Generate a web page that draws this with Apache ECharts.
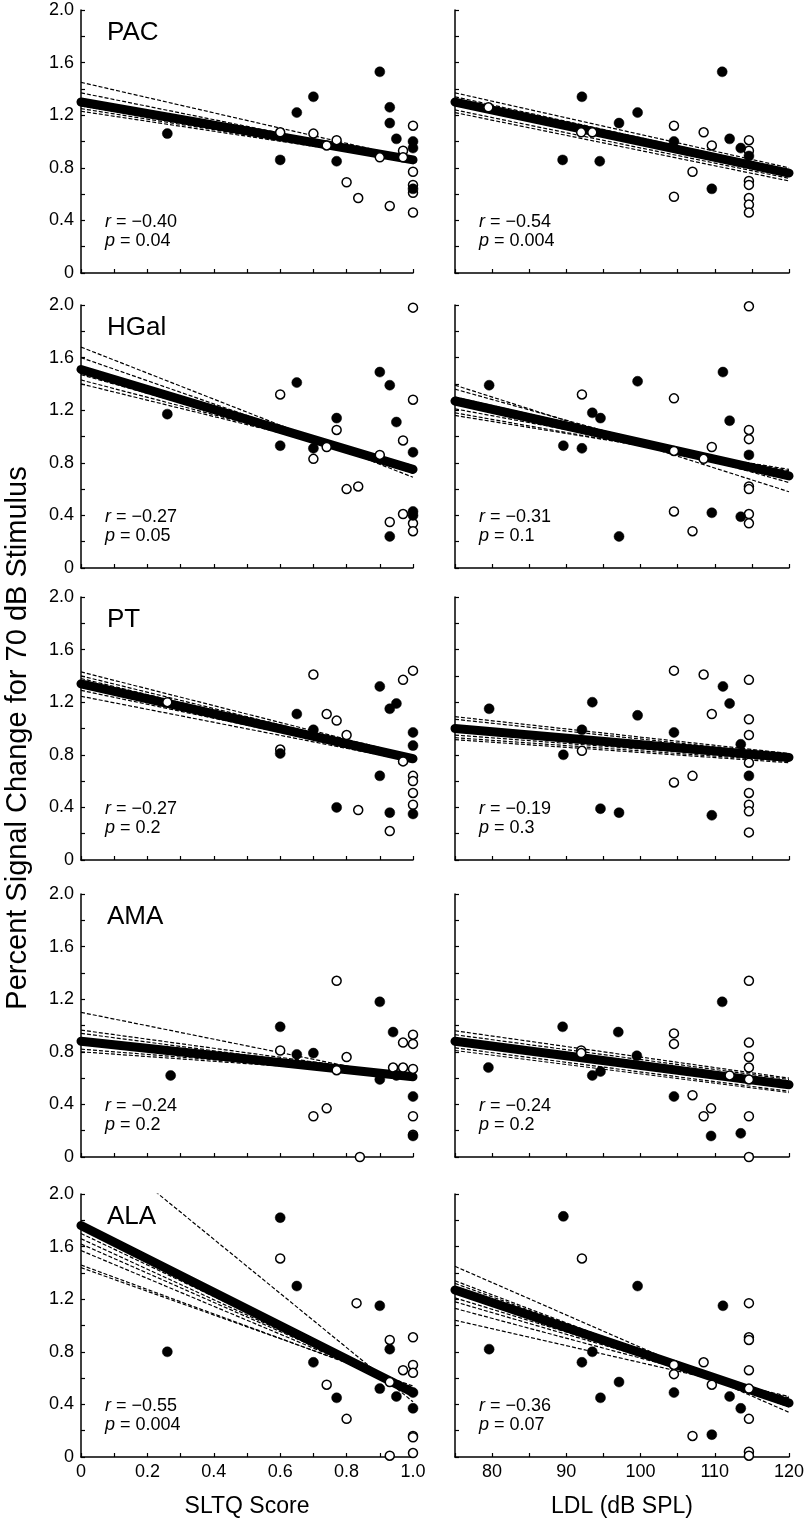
<!DOCTYPE html>
<html><head><meta charset="utf-8">
<script src="https://cdn.jsdelivr.net/npm/echarts@6/dist/echarts.min.js"></script>
<style>html,body{margin:0;padding:0;background:#fff}#c{width:809px;height:1524px}</style>
</head><body><div id="c"></div>
<script>
// ---------------- DATA ----------------
const regions = ['PAC', 'HGal', 'PT', 'AMA', 'ALA'];
const xTitles = ['SLTQ Score', 'LDL (dB SPL)'];
const yTitle = 'Percent Signal Change for 70 dB Stimulus';
const yTickLabels = ['0', '0.4', '0.8', '1.2', '1.6', '2.0'];
const sltqTickLabels = ['0', '0.2', '0.4', '0.6', '0.8', '1.0'];
const ldlTickLabels = ['80', '90', '100', '110', '120'];

// PAC
const PAC_sltq_filled = [[0.26,1.06],[0.60,0.86],[0.65,1.22],[0.70,1.34],[0.77,0.85],[0.90,1.53],[0.93,1.26],[0.93,1.14],[0.95,1.02],[1.0,1.00],[1.0,0.95],[1.0,0.64]];
const PAC_sltq_open = [[0.60,1.07],[0.70,1.06],[0.74,0.97],[0.77,1.01],[0.80,0.69],[0.835,0.57],[0.90,0.88],[0.93,0.51],[0.97,0.93],[0.97,0.88],[1.0,1.12],[1.0,0.77],[1.0,0.67],[1.0,0.61],[1.0,0.46]];
const PAC_sltq_fit = [[0,1.30],[1,0.86]];
const PAC_sltq_resamples = [[[0,1.45],[1,0.87]],[[0,1.37],[1,0.86]],[[0,1.27],[1,0.86]],[[0,1.25],[1,0.85]],[[0,1.23],[1,0.85]]];
const PAC_sltq_stats = ['\u22120.40', '0.04'];

const PAC_ldl_filled = [[89.5,0.86],[92.1,1.34],[94.5,0.85],[97.1,1.14],[99.6,1.22],[104.5,1.00],[109.6,0.64],[111.0,1.53],[112.0,1.02],[113.5,0.95],[114.6,0.89]];
const PAC_ldl_open = [[79.5,1.26],[92.0,1.07],[93.5,1.07],[104.5,1.12],[104.5,0.58],[107.0,0.77],[108.5,1.07],[109.6,0.97],[114.6,1.01],[114.6,0.93],[114.6,0.70],[114.6,0.67],[114.6,0.57],[114.6,0.52],[114.6,0.46]];
const PAC_ldl_fit = [[75,1.30],[120,0.76]];
const PAC_ldl_resamples = [[[75,1.37],[120,0.80]],[[75,1.34],[120,0.78]],[[75,1.24],[120,0.72]],[[75,1.22],[120,0.70]]];
const PAC_ldl_stats = ['\u22120.54', '0.004'];

// HGal
const HGal_sltq_filled = [[0.26,1.17],[0.60,0.93],[0.65,1.41],[0.70,0.91],[0.77,1.14],[0.90,1.49],[0.93,1.39],[0.95,1.11],[0.93,0.24],[1.0,0.88],[1.0,0.43],[1.0,0.40]];
const HGal_sltq_open = [[0.60,1.32],[0.70,0.83],[0.74,0.92],[0.77,1.05],[0.80,0.60],[0.835,0.62],[0.90,0.86],[0.93,0.35],[0.97,0.41],[0.97,0.97],[1.0,1.98],[1.0,1.28],[1.0,0.34],[1.0,0.28]];
const HGal_sltq_fit = [[0,1.51],[1,0.75]];
const HGal_sltq_resamples = [[[0,1.68],[1,0.69]],[[0,1.60],[1,0.72]],[[0,1.47],[1,0.76]],[[0,1.43],[1,0.77]],[[0,1.40],[1,0.78]]];
const HGal_sltq_stats = ['\u22120.27', '0.05'];

const HGal_ldl_filled = [[79.6,1.39],[89.6,0.93],[92.1,0.91],[93.5,1.18],[94.6,1.14],[97.1,0.24],[99.6,1.42],[109.6,0.42],[111.1,1.49],[112.0,1.12],[113.5,0.39],[114.6,0.86]];
const HGal_ldl_open = [[92.1,1.32],[104.5,1.29],[104.5,0.43],[104.5,0.89],[107.0,0.28],[108.5,0.83],[109.6,0.92],[114.6,1.99],[114.6,1.05],[114.6,0.98],[114.6,0.62],[114.6,0.60],[114.6,0.41],[114.6,0.34]];
const HGal_ldl_fit = [[75,1.27],[120,0.70]];
const HGal_ldl_resamples = [[[75,1.39],[120,0.58]],[[75,1.36],[120,0.65]],[[75,1.30],[120,0.72]],[[75,1.21],[120,0.74]],[[75,1.18],[120,0.73]],[[75,1.16],[120,0.75]]];
const HGal_ldl_stats = ['\u22120.31', '0.1'];

// PT
const PT_sltq_filled = [[0.60,0.81],[0.65,1.11],[0.70,0.99],[0.77,0.40],[0.90,1.32],[0.93,1.15],[0.95,1.19],[0.90,0.64],[0.93,0.36],[1.0,0.97],[1.0,0.87],[1.0,0.35]];
const PT_sltq_open = [[0.26,1.20],[0.60,0.84],[0.70,1.41],[0.74,1.11],[0.77,1.06],[0.80,0.95],[0.835,0.38],[0.93,0.22],[0.97,1.37],[0.97,0.75],[1.0,1.44],[1.0,0.64],[1.0,0.60],[1.0,0.51],[1.0,0.42]];
const PT_sltq_fit = [[0,1.34],[1,0.77]];
const PT_sltq_resamples = [[[0,1.43],[1,0.79]],[[0,1.40],[1,0.78]],[[0,1.38],[1,0.77]],[[0,1.29],[1,0.76]],[[0,1.245],[1,0.75]]];
const PT_sltq_stats = ['\u22120.27', '0.2'];

const PT_ldl_filled = [[79.6,1.15],[89.6,0.80],[92.1,0.99],[93.5,1.20],[94.6,0.39],[97.1,0.36],[99.6,1.10],[104.5,0.97],[109.6,0.34],[111.1,1.32],[112.0,1.19],[113.5,0.88],[114.6,0.64]];
const PT_ldl_open = [[92.1,0.83],[104.5,1.44],[104.5,0.59],[107.0,0.64],[108.5,1.41],[109.6,1.11],[114.6,1.37],[114.6,1.07],[114.6,0.95],[114.6,0.74],[114.6,0.51],[114.6,0.42],[114.6,0.37],[114.6,0.21]];
const PT_ldl_fit = [[75,1.00],[120,0.78]];
const PT_ldl_resamples = [[[75,1.09],[120,0.81]],[[75,1.07],[120,0.80]],[[75,0.95],[120,0.76]],[[75,0.93],[120,0.75]],[[75,0.915],[120,0.74]]];
const PT_ldl_stats = ['\u22120.19', '0.3'];

// AMA
const AMA_sltq_filled = [[0.27,0.62],[0.60,0.99],[0.65,0.78],[0.70,0.79],[0.90,1.18],[0.90,0.59],[0.94,0.95],[0.95,0.62],[1.0,0.46],[1.0,0.16]];
const AMA_sltq_open = [[0.60,0.81],[0.77,1.34],[0.80,0.76],[0.77,0.66],[0.70,0.31],[0.74,0.37],[0.84,0.0],[0.94,0.68],[0.97,0.87],[0.97,0.68],[1.0,0.93],[1.0,0.86],[1.0,0.67],[1.0,0.31],[1.0,0.17]];
const AMA_sltq_fit = [[0,0.88],[1,0.61]];
const AMA_sltq_resamples = [[[0,1.10],[1,0.59]],[[0,0.965],[1,0.62]],[[0,0.94],[1,0.61]],[[0,0.82],[1,0.62]],[[0,0.80],[1,0.62]]];
const AMA_sltq_stats = ['\u22120.24', '0.2'];

const AMA_ldl_filled = [[79.5,0.68],[89.5,0.99],[93.5,0.62],[94.6,0.65],[97.0,0.95],[99.5,0.77],[104.5,0.46],[109.5,0.16],[111.0,1.18],[113.5,0.18]];
const AMA_ldl_open = [[92.0,0.81],[92.0,0.79],[104.5,0.94],[104.5,0.86],[107.0,0.47],[108.5,0.31],[109.5,0.37],[112.0,0.62],[114.6,1.34],[114.6,0.87],[114.6,0.76],[114.6,0.68],[114.6,0.59],[114.6,0.31],[114.6,0.0]];
const AMA_ldl_fit = [[75,0.88],[120,0.55]];
const AMA_ldl_resamples = [[[75,0.96],[120,0.60]],[[75,0.93],[120,0.59]],[[75,0.83],[120,0.50]],[[75,0.81],[120,0.49]]];
const AMA_ldl_stats = ['\u22120.24', '0.2'];

// ALA
const ALA_sltq_filled = [[0.26,0.80],[0.60,1.82],[0.65,1.30],[0.70,0.72],[0.77,0.45],[0.90,1.15],[0.90,0.52],[0.93,0.82],[0.95,0.46],[1.0,0.49],[1.0,0.37]];
const ALA_sltq_open = [[0.60,1.51],[0.83,1.17],[0.93,0.89],[0.74,0.55],[0.80,0.29],[0.93,0.57],[0.93,0.01],[0.97,0.66],[1.0,0.91],[1.0,0.70],[1.0,0.64],[1.0,0.16],[1.0,0.15],[1.0,0.03]];
const ALA_sltq_fit = [[0,1.76],[1,0.49]];
const ALA_sltq_resamples = [[[0,2.48],[1,0.42]],[[0,1.70],[1,0.50]],[[0,1.66],[1,0.50]],[[0,1.62],[1,0.51]],[[0,1.57],[1,0.51]],[[0,1.46],[1,0.53]],[[0,1.44],[1,0.54]]];
const ALA_sltq_stats = ['\u22120.55', '0.004'];

const ALA_ldl_filled = [[79.6,0.82],[89.6,1.83],[92.1,0.72],[93.5,0.80],[94.6,0.45],[97.1,0.57],[99.6,1.30],[104.5,0.49],[109.6,0.17],[111.1,1.15],[112.0,0.46],[113.5,0.37]];
const ALA_ldl_open = [[92.1,1.51],[104.5,0.70],[104.5,0.63],[107.0,0.16],[108.5,0.72],[109.6,0.55],[114.6,1.17],[114.6,0.91],[114.6,0.89],[114.6,0.66],[114.6,0.52],[114.6,0.29],[114.6,0.04],[114.6,0.01]];
const ALA_ldl_fit = [[75,1.27],[120,0.41]];
const ALA_ldl_resamples = [[[75,1.45],[120,0.34]],[[75,1.34],[120,0.38]],[[75,1.32],[120,0.40]],[[75,1.21],[120,0.43]],[[75,1.18],[120,0.44]],[[75,1.13],[120,0.45]],[[75,1.04],[120,0.46]]];
const ALA_ldl_stats = ['\u22120.36', '0.07'];

// ---------------- ASSEMBLY ----------------
const panelData = {
  PAC: [[PAC_sltq_filled, PAC_sltq_open, PAC_sltq_fit, PAC_sltq_resamples, PAC_sltq_stats],
        [PAC_ldl_filled, PAC_ldl_open, PAC_ldl_fit, PAC_ldl_resamples, PAC_ldl_stats]],
  HGal: [[HGal_sltq_filled, HGal_sltq_open, HGal_sltq_fit, HGal_sltq_resamples, HGal_sltq_stats],
        [HGal_ldl_filled, HGal_ldl_open, HGal_ldl_fit, HGal_ldl_resamples, HGal_ldl_stats]],
  PT: [[PT_sltq_filled, PT_sltq_open, PT_sltq_fit, PT_sltq_resamples, PT_sltq_stats],
        [PT_ldl_filled, PT_ldl_open, PT_ldl_fit, PT_ldl_resamples, PT_ldl_stats]],
  AMA: [[AMA_sltq_filled, AMA_sltq_open, AMA_sltq_fit, AMA_sltq_resamples, AMA_sltq_stats],
        [AMA_ldl_filled, AMA_ldl_open, AMA_ldl_fit, AMA_ldl_resamples, AMA_ldl_stats]],
  ALA: [[ALA_sltq_filled, ALA_sltq_open, ALA_sltq_fit, ALA_sltq_resamples, ALA_sltq_stats],
        [ALA_ldl_filled, ALA_ldl_open, ALA_ldl_fit, ALA_ldl_resamples, ALA_ldl_stats]]
};

const FONT = '"Liberation Sans", Arial, sans-serif';
const rowTops = [10, 305, 597, 894, 1194];
const H = 263;
const cols = [{ left: 81, width: 332 }, { left: 455, width: 334 }];
const xRanges = [{ min: 0, max: 1, interval: 0.1 }, { min: 75, max: 120, interval: 5 }];

const grids = [], xAxes = [], yAxes = [], series = [], graphics = [];
const axisLineStyle = { color: '#000', width: 1.5 };

function xFmt(c) {
  return function (v) {
    if (c === 0) {
      const s = (Math.round(v * 10) / 10);
      const lbl = s === 0 ? '0' : s.toFixed(1);
      return sltqTickLabels.indexOf(lbl) >= 0 ? lbl : '';
    }
    const lbl = String(Math.round(v));
    return ldlTickLabels.indexOf(lbl) >= 0 ? lbl : '';
  };
}
function yFmt(v) {
  const s = Math.round(v * 10) / 10;
  const lbl = s === 0 ? '0' : s.toFixed(1);
  return yTickLabels.indexOf(lbl) >= 0 ? lbl : '';
}

let k = 0;
regions.forEach(function (reg, r) {
  [0, 1].forEach(function (c) {
    const d = panelData[reg][c];
    const top = rowTops[r];
    grids.push({ left: cols[c].left, top: top, width: cols[c].width, height: H, containLabel: false, outerBoundsMode: 'none' });
    const bottomRow = r === regions.length - 1;
    xAxes.push({
      type: 'value', gridIndex: k, min: xRanges[c].min, max: xRanges[c].max, interval: xRanges[c].interval,
      axisLine: { show: true, onZero: false, lineStyle: axisLineStyle },
      axisTick: { show: true, inside: true, length: 4, lineStyle: { color: '#000', width: 1.2 } },
      splitLine: { show: false },
      axisLabel: { show: bottomRow, formatter: xFmt(c), color: '#000', fontSize: 18, fontFamily: FONT, margin: 6 },
      name: bottomRow ? xTitles[c] : '', nameLocation: 'middle', nameGap: 38,
      nameTextStyle: { color: '#000', fontSize: 23, fontFamily: FONT }
    });
    yAxes.push({
      type: 'value', gridIndex: k, min: 0, max: 2, interval: 0.2,
      axisLine: { show: true, onZero: false, lineStyle: axisLineStyle },
      axisTick: { show: true, inside: true, length: 4, lineStyle: { color: '#000', width: 1.2 } },
      splitLine: { show: false },
      axisLabel: { show: c === 0, formatter: yFmt, color: '#000', fontSize: 18, fontFamily: FONT, margin: 7 }
    });
    // resampled fits (dashed)
    d[3].forEach(function (ln) {
      series.push({ type: 'line', xAxisIndex: k, yAxisIndex: k, data: ln, symbol: 'none', clip: true, silent: true,
        lineStyle: { color: '#000', width: 1.2, type: [4, 2], opacity: 1 }, z: 2, animation: false });
    });
    // main fit (thick)
    series.push({ type: 'line', xAxisIndex: k, yAxisIndex: k, data: d[2], symbol: 'none', clip: true, silent: true,
      lineStyle: { color: '#000', width: 9, cap: 'round', opacity: 1 }, z: 3, animation: false });
    // points
    series.push({ type: 'scatter', xAxisIndex: k, yAxisIndex: k, data: d[0], symbol: 'circle', symbolSize: 10, clip: false,
      itemStyle: { color: '#000', borderColor: '#000', borderWidth: 0.5, opacity: 1 }, z: 5, animation: false });
    series.push({ type: 'scatter', xAxisIndex: k, yAxisIndex: k, data: d[1], symbol: 'circle', symbolSize: 9, clip: false,
      itemStyle: { color: '#fff', borderColor: '#000', borderWidth: 1.5, opacity: 1 }, z: 4, animation: false });
    // stats text
    const tx = cols[c].left + 24;
    const richI = { i: { fontStyle: 'italic', fontSize: 18, fontFamily: FONT, fill: '#000' } };
    graphics.push({ type: 'text', x: tx, y: top + 212, z: 10,
      style: { text: '{i|r} = ' + d[4][0], fill: '#000', font: '18px ' + FONT, fontSize: 18, fontFamily: FONT,
        verticalAlign: 'middle', textVerticalAlign: 'middle', rich: richI } });
    graphics.push({ type: 'text', x: tx, y: top + 231, z: 10,
      style: { text: '{i|p} = ' + d[4][1], fill: '#000', font: '18px ' + FONT, fontSize: 18, fontFamily: FONT,
        verticalAlign: 'middle', textVerticalAlign: 'middle', rich: richI } });
    if (c === 0) {
      graphics.push({ type: 'text', x: cols[0].left + 26, y: top + 23, z: 10,
        style: { text: reg, fill: '#000', font: '26px ' + FONT, fontSize: 26, fontFamily: FONT,
          verticalAlign: 'middle', textVerticalAlign: 'middle' } });
    }
    k++;
  });
});

graphics.push({ type: 'text', x: 18, y: 738, rotation: Math.PI / 2, z: 10,
  style: { text: yTitle, fill: '#000', font: '29px ' + FONT, fontSize: 29, fontFamily: FONT,
    align: 'center', textAlign: 'center', verticalAlign: 'middle', textVerticalAlign: 'middle' } });

const chart = echarts.init(document.getElementById('c'), null, { renderer: 'canvas' });
chart.setOption({
  animation: false,
  backgroundColor: '#fff',
  grid: grids, xAxis: xAxes, yAxis: yAxes, series: series, graphic: graphics
});
</script>
</body></html>
